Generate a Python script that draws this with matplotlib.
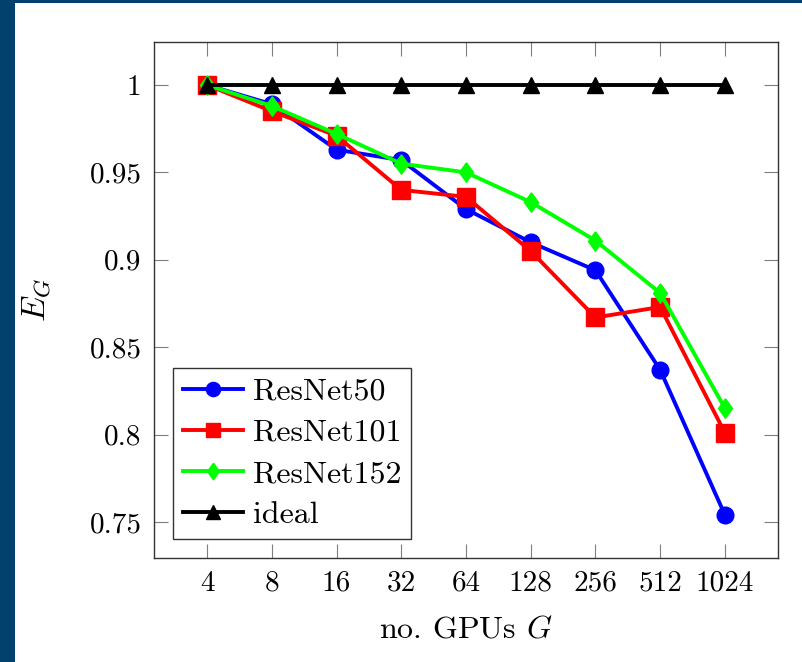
import matplotlib
matplotlib.use("Agg")
import matplotlib.pyplot as plt
from matplotlib.patches import Rectangle

gpus = [4, 8, 16, 32, 64, 128, 256, 512, 1024]
resnet50 = [1.0, 0.989, 0.963, 0.957, 0.929, 0.910, 0.894, 0.837, 0.754]
resnet101 = [1.0, 0.985, 0.971, 0.940, 0.936, 0.905, 0.867, 0.873, 0.801]
resnet152 = [1.0, 0.988, 0.972, 0.955, 0.950, 0.933, 0.911, 0.881, 0.815]
ideal = [1.0] * 9
yticks = [0.75, 0.8, 0.85, 0.9, 0.95, 1.0]
ytick_labels = ["0.75", "0.8", "0.85", "0.9", "0.95", "1"]

plt.rcParams["font.family"] = "serif"
plt.rcParams["font.serif"] = ["cmr10", "DejaVu Serif"]
plt.rcParams["mathtext.fontset"] = "cm"
plt.rcParams["axes.unicode_minus"] = False

fig = plt.figure(figsize=(8.02, 6.62), dpi=100, facecolor="#02406e")
fig.patches.append(Rectangle((15 / 802, 0), 1, 1 - 3 / 662, transform=fig.transFigure,
                             facecolor="white", edgecolor="none", zorder=-10))

ax = fig.add_axes([154 / 802, 1 - 558 / 662, 624 / 802, 516 / 662])
x = list(range(len(gpus)))

# wider diamond than matplotlib's 'd'
diamond = [(0, 1), (0.72, 0), (0, -1), (-0.72, 0), (0, 1)]

ax.plot(x, resnet50, color="#0000ff", lw=2.8, marker="o", ms=12, label="ResNet50")
ax.plot(x, resnet101, color="#ff0000", lw=2.8, marker="s", ms=12.5, label="ResNet101")
ax.plot(x, resnet152, color="#00ff00", lw=2.8, marker=diamond, ms=14, label="ResNet152")
ax.plot(x, ideal, color="black", lw=2.8, marker="^", ms=12, label="ideal")

ax.set_xlim(-0.82, 8.82)
ax.set_ylim(0.7294, 1.0246)
ax.set_xticks(x)
ax.set_xticklabels([str(g) for g in gpus])
ax.set_yticks(yticks)
ax.set_yticklabels(ytick_labels)
ax.tick_params(direction="in", length=10, width=0.8, color="#7f7f7f", labelsize=21,
               top=True, right=True, pad=9)
for s in ax.spines.values():
    s.set_color("#333333")
    s.set_linewidth(1.0)

ax.set_xlabel("no. GPUs $G$", fontsize=23, labelpad=14)
ax.set_ylabel("$E_G$", fontsize=24, labelpad=26)

leg = ax.legend(loc="lower left", fontsize=23, frameon=True, fancybox=False,
                edgecolor="#333333", framealpha=1, handlelength=1.9,
                borderaxespad=0.6, labelspacing=0.4, handletextpad=0.3,
                borderpad=0.3, markerscale=0.85)
leg.get_frame().set_linewidth(1.0)

fig.savefig("out.png", dpi=100, facecolor=fig.get_facecolor())
